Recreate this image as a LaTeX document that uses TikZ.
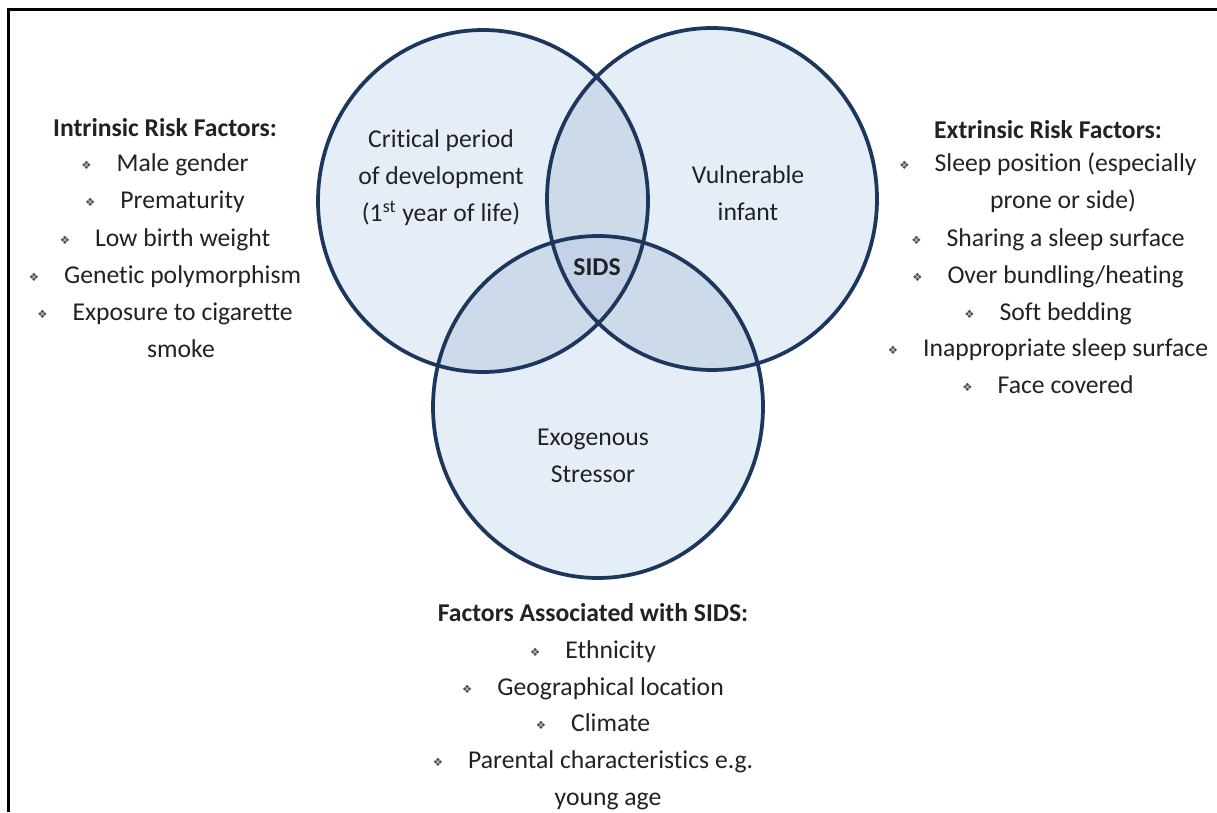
\documentclass[tikz,border=0pt]{standalone}
\usepackage{fontspec}
\setmainfont{Carlito}[Ligatures=NoCommon]
\newfontfamily\symfont{DejaVu Sans}

\definecolor{vennfill}{HTML}{E5EDF6}
\definecolor{vennmid}{HTML}{CCDAEA}
\definecolor{venncore}{HTML}{C3D2E6}
\definecolor{vennline}{HTML}{1C365C}
\definecolor{txt}{HTML}{222222}
\definecolor{bulgray}{HTML}{505050}

\newcommand{\dia}{{\symfont\fontsize{6.5}{6.5}\selectfont\color{bulgray}\raisebox{1pt}{❖}}\hspace{0.5cm}}

\tikzset{
        venn/.style={draw=vennline, line width=0.075cm},
        lbl/.style={font=\fontsize{14.6}{21}\selectfont, text=txt, inner sep=0pt, text height=9.6pt, text depth=0pt},
        head/.style={lbl, font=\fontsize{14.6}{21}\selectfont\bfseries},
        inside/.style={lbl, align=center, text height=, text depth=}
}

\begin{document}
\begin{tikzpicture}
        \useasboundingbox (0,0) rectangle (24.34,16.24);
        \fill[white] (0,0) rectangle (24.34,16.24);
        \draw[line width=0.06cm] (0.17,0) -- (0.17,16.04) -- (24.34,16.04);

        \fill[vennfill] (9.66,12.22) ellipse (3.3 and 3.42);
        \fill[vennfill] (14.24,12.26) ellipse (3.3 and 3.42);
        \fill[vennfill] (11.96,8.10) ellipse (3.3 and 3.42);
        \begin{scope}
                \clip (9.66,12.22) ellipse (3.3 and 3.42);
                \fill[vennmid] (14.24,12.26) ellipse (3.3 and 3.42);
                \fill[vennmid] (11.96,8.10) ellipse (3.3 and 3.42);
        \end{scope}
        \begin{scope}
                \clip (14.24,12.26) ellipse (3.3 and 3.42);
                \fill[vennmid] (11.96,8.10) ellipse (3.3 and 3.42);
                \clip (9.66,12.22) ellipse (3.3 and 3.42);
                \fill[venncore] (11.96,8.10) ellipse (3.3 and 3.42);
        \end{scope}
        \draw[venn] (9.66,12.22) ellipse (3.3 and 3.42);
        \draw[venn] (14.24,12.26) ellipse (3.3 and 3.42);
        \draw[venn] (11.96,8.10) ellipse (3.3 and 3.42);

        \node[inside] (crit) at (8.82,12.68) {Critical period\\of development\\(1\textsuperscript{st} year of life)};
        \node[inside] (vuln) at (14.96,12.37) {Vulnerable\\infant};
        \node[head] (sids) at (11.94,10.9) {SIDS};
        \node[inside] (exo) at (11.86,7.12) {Exogenous\\Stressor};

        \node[head] (intr) at (3.3,13.68) {Intrinsic Risk Factors:};
        \node[lbl] (intr1) at (3.3,12.98) {\dia Male gender};
        \node[lbl] (intr2) at (3.3,12.24) {\dia Prematurity};
        \node[lbl] (intr3) at (3.3,11.48) {\dia Low birth weight};
        \node[lbl] (intr4) at (3.3,10.74) {\dia Genetic polymorphism};
        \node[lbl] (intr5) at (3.3,10.0) {\dia Exposure to cigarette};
        \node[lbl] (intr6) at (3.62,9.26) {smoke};

        \node[head] (extr) at (20.96,13.64) {Extrinsic Risk Factors:};
        \node[lbl] (extr1) at (20.96,12.98) {\dia Sleep position (especially};
        \node[lbl] (extr2) at (21.26,12.24) {prone or side)};
        \node[lbl] (extr3) at (20.96,11.48) {\dia Sharing a sleep surface};
        \node[lbl] (extr4) at (20.96,10.74) {\dia Over bundling/heating};
        \node[lbl] (extr5) at (20.96,10.0) {\dia Soft bedding};
        \node[lbl] (extr6) at (20.96,9.28) {\dia Inappropriate sleep surface};
        \node[lbl] (extr7) at (20.96,8.54) {\dia Face covered};

        \node[head] (assoc) at (11.86,3.98) {Factors Associated with SIDS:};
        \node[lbl] (assoc1) at (11.86,3.24) {\dia Ethnicity};
        \node[lbl] (assoc2) at (11.86,2.5) {\dia Geographical location};
        \node[lbl] (assoc3) at (11.86,1.78) {\dia Climate};
        \node[lbl] (assoc4) at (11.86,1.04) {\dia Parental characteristics e.g.};
        \node[lbl] (assoc5) at (12.16,0.30) {young age};
\end{tikzpicture}
\end{document}
